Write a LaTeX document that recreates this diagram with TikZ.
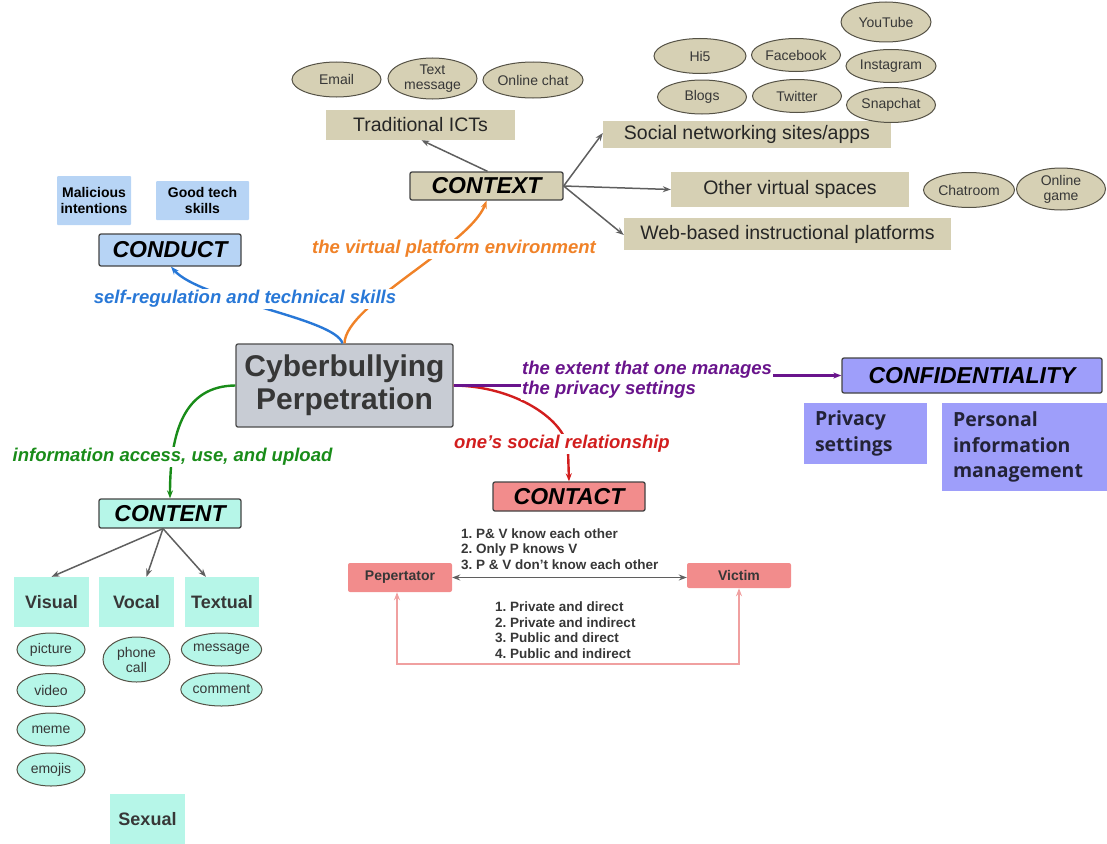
\documentclass[tikz,border=0pt]{standalone}
\usepackage{fontspec}
\setmainfont{Liberation Sans}
\newfontfamily\boxfont{Open Sans}
\usetikzlibrary{arrows.meta,shapes.geometric}
\frenchspacing

\definecolor{tanfill}{RGB}{214,208,180}
\definecolor{ovalline}{RGB}{85,82,70}
\definecolor{darktext}{RGB}{55,55,55}
\definecolor{hubfill}{RGB}{200,204,212}
\definecolor{conductfill}{RGB}{183,212,245}
\definecolor{aquafill}{RGB}{182,246,232}
\definecolor{lilacfill}{RGB}{158,158,250}
\definecolor{salmonfill}{RGB}{242,140,140}
\definecolor{pinkline}{RGB}{240,160,160}
\definecolor{edgegrey}{RGB}{95,95,95}
\definecolor{orangec}{RGB}{240,130,40}
\definecolor{bluec}{RGB}{40,120,215}
\definecolor{greenc}{RGB}{25,140,25}
\definecolor{purplec}{RGB}{105,20,140}
\definecolor{redc}{RGB}{210,30,30}
\definecolor{navytext}{RGB}{35,35,55}

\tikzset{
  headarrow/.style={-{Stealth[length=8pt,width=6pt]}},
  link/.style={headarrow, draw=edgegrey, line width=1.5pt},
  flow/.style={headarrow, line width=2.4pt},
  header/.style={draw=edgegrey!70!black, line width=1.3pt, rounded corners=2pt,
    inner sep=0pt, font=\fontsize{23}{26}\selectfont\bfseries\itshape},
  tanbox/.style={fill=tanfill, inner sep=0pt, text=black!85, font=\fontsize{19.5}{22}\selectfont},
  oval/.style={ellipse, draw=ovalline, line width=1pt, inner sep=0pt, align=center,
    text=darktext, font=\fontsize{14}{15}\selectfont},
  tanoval/.style={oval, fill=tanfill},
  aquaoval/.style={oval, fill=aquafill, minimum width=68, minimum height=33},
  aquabox/.style={fill=aquafill, inner sep=0pt, minimum width=75, minimum height=50,
    text=darktext, font=\fontsize{18}{20}\selectfont\bfseries},
  bluebox/.style={fill=conductfill, inner sep=0pt, align=center, rounded corners=1pt,
    font=\fontsize{14}{15.5}\selectfont\bfseries},
  lilacbox/.style={fill=lilacfill, inner sep=0pt, align=left, text=navytext,
    font=\boxfont\fontsize{19.5}{25.5}\selectfont\bfseries},
  pinkbox/.style={fill=salmonfill, inner sep=0pt, rounded corners=2pt, text=darktext,
    font=\fontsize{14}{16}\selectfont\bfseries},
  flowlabel/.style={fill=white, inner sep=1pt, align=left,
    font=\fontsize{18.5}{20}\selectfont\bfseries\itshape},
  listlabel/.style={inner sep=0pt, align=left, text=darktext,
    font=\fontsize{13.5}{15.6}\selectfont\bfseries},
}

\begin{document}
\begin{tikzpicture}[x=1pt,y=-1pt]
\useasboundingbox (0,0) rectangle (1107,843);

% ---------- hub ----------
\node[draw=edgegrey!80!black, fill=hubfill, line width=1.3pt, rounded corners=2pt,
  minimum width=217, minimum height=83, inner sep=0pt, align=center, text=darktext,
  font=\fontsize{30}{33}\selectfont\bfseries] (hub) at (344.5,385.5)
  {Cyberbullying\\Perpetration};

% ---------- context ----------
\node[header, fill=tanfill, minimum width=153, minimum height=28] (context) at (486.5,186) {CONTEXT};
\node[tanbox, minimum width=189, minimum height=30] (trad) at (420.5,125) {Traditional ICTs};
\node[tanbox, minimum width=288, minimum height=27] (social) at (747,134) {Social networking sites/apps};
\node[tanbox, minimum width=238, minimum height=35] (other) at (790,189.5) {Other virtual spaces};
\node[tanbox, minimum width=327, minimum height=32] (web) at (787.5,234) {Web-based instructional platforms};

\node[tanoval, minimum width=89, minimum height=35] (email) at (336.5,79.5) {Email};
\node[tanoval, minimum width=89, minimum height=41] (textmsg) at (432.5,78.5) {Text\\message};
\node[tanoval, minimum width=90, minimum height=36] (chat) at (533,80) {Online chat};

\node[tanoval, minimum width=90, minimum height=40] (youtube) at (886,22) {YouTube};
\node[tanoval, minimum width=92, minimum height=35] (hifive) at (700,56) {Hi5};
\node[tanoval, minimum width=89, minimum height=33] (facebook) at (796,55) {Facebook};
\node[tanoval, minimum width=90, minimum height=33] (instagram) at (891,66) {Instagram};
\node[tanoval, minimum width=89, minimum height=34] (blogs) at (702,97) {Blogs};
\node[tanoval, minimum width=89, minimum height=33] (twitter) at (797,96) {Twitter};
\node[tanoval, minimum width=89, minimum height=35] (snapchat) at (891,105) {Snapchat};
\node[tanoval, minimum width=91, minimum height=35] (chatroom) at (969,190) {Chatroom};
\node[tanoval, minimum width=89, minimum height=42] (game) at (1061,189) {Online\\game};

\draw[link] ([xshift=1]context.north) -- ([xshift=1]trad.south);
\draw[link] (context.east) -- ([yshift=1]social.west);
\draw[link] (context.east) -- (other.west);
\draw[link] (context.east) -- ([yshift=-1]web.west);

% ---------- conduct ----------
\node[header, fill=conductfill, minimum width=142, minimum height=32] (conduct) at (170,250) {CONDUCT};
\node[bluebox, minimum width=74, minimum height=49] (malice) at (94,200.5) {Malicious\\intentions};
\node[bluebox, minimum width=93, minimum height=39] (skills) at (202.5,200.5) {Good tech\\skills};

% ---------- confidentiality ----------
\node[header, fill=lilacfill, minimum width=260, minimum height=35] (confid) at (972,375.5) {CONFIDENTIALITY};
\node[lilacbox, minimum width=123, minimum height=61, text width=101] (privacy) at (865.5,433.5) {Privacy\\settings};
\node[lilacbox, minimum width=165, minimum height=88, text width=143] (personal) at (1024.5,447) {Personal\\information\\management};

% ---------- contact ----------
\node[header, fill=salmonfill, minimum width=152, minimum height=29] (contact) at (569,496.5) {CONTACT};
\node[pinkbox, minimum width=104, minimum height=29] (perp) at (400,577.5) {Pepertator};
\node[pinkbox, minimum width=104, minimum height=25] (victim) at (739,575.5) {Victim};

\draw[link, {Stealth[length=8pt,width=6pt]}-{Stealth[length=8pt,width=6pt]}] (perp.east) -- (perp.east -| victim.west);
\draw[draw=pinkline, line width=2pt, {Stealth[length=8pt,width=6pt]}-{Stealth[length=8pt,width=6pt]}]
  ([xshift=-3]perp.south) -- ([xshift=-3]perp.south |- 0,664) -- (victim.south |- 0,664) -- (victim.south);

\node[listlabel, anchor=west] (knows) at (461,549)
  {1. P\& V know each other\\2. Only P knows V\\3. P \& V don't know each other};
\node[listlabel, anchor=west] (modes) at (495,630)
  {1. Private and direct\\2. Private and indirect\\3. Public and direct\\4. Public and indirect};

% ---------- content ----------
\node[header, fill=aquafill, minimum width=142, minimum height=29] (content) at (170,513.5) {CONTENT};
\node[aquabox] (visual) at (51.5,602) {Visual};
\node[aquabox] (vocal) at (136.5,602) {Vocal};
\node[aquabox, minimum width=74] (textual) at (222,602) {Textual};
\node[aquabox] (sexual) at (147.5,819) {Sexual};

\node[aquaoval] (picture) at (51,649.5) {picture};
\node[aquaoval] (video) at (51,690) {video};
\node[aquaoval] (meme) at (51,729.5) {meme};
\node[aquaoval] (emojis) at (51,769.5) {emojis};
\node[aquaoval, minimum width=67, minimum height=45] (phone) at (136.5,659.5) {phone\\call};
\node[aquaoval, minimum width=67] (message) at (221.5,649.5) {message};
\node[aquaoval, minimum width=67] (comment) at (221.5,689.5) {comment};

\draw[link] ([xshift=-7]content.south) -- (visual.north);
\draw[link] ([xshift=-7]content.south) -- ([xshift=10]vocal.north);
\draw[link] ([xshift=-7]content.south) -- ([xshift=-16]textual.north);

% ---------- relation curves from the hub ----------
\draw[flow, draw=bluec, color=bluec] ([xshift=-2]hub.north)
  .. controls (335,318) and (200,300) .. ([xshift=1]conduct.south);
\draw[flow, draw=orangec, color=orangec] (hub.north)
  .. controls (345,305) and (470,245) .. (context.south);
\draw[flow, draw=greenc, color=greenc] (hub.west)
  .. controls (185,386) and (170,430) .. (content.north);
\draw[flow, draw=redc, color=redc] (hub.east)
  .. controls (515,386) and (566,420) .. (568,450) -- (contact.north);

\node[flowlabel, text=purplec, anchor=west] (privlabel) at (521,380)
  {the extent that one manages\\the privacy settings};
\draw[line width=2.4pt, draw=purplec] (hub.east) -- (hub.east -| privlabel.west);
\draw[flow, draw=purplec, color=purplec] (privlabel.east |- confid.west) -- (confid.west);

\node[flowlabel, text=bluec] (condlabel) at (245,299) {self-regulation and technical skills};
\node[flowlabel, text=orangec] (ctxlabel) at (454,249) {the virtual platform environment};
\node[flowlabel, text=greenc] (contlabel) at (172.5,457) {information access, use, and upload};
\node[flowlabel, text=redc] (relabel) at (562,444) {one's social relationship};

\end{tikzpicture}
\end{document}
